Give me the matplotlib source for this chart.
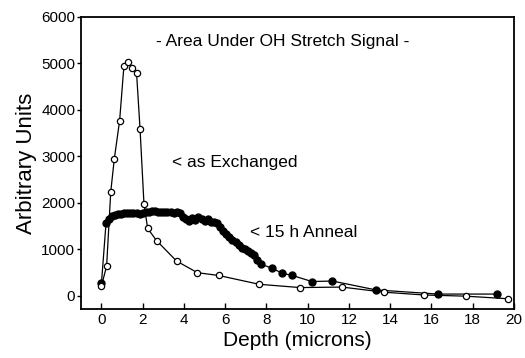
import matplotlib
matplotlib.use('Agg')
import matplotlib.pyplot as plt

plt.rcParams['font.family'] = ['Liberation Sans', 'DejaVu Sans']

# as exchanged (open circles)
exch_depth = [0.0, 0.25, 0.45, 0.62, 0.88, 1.09, 1.28, 1.49, 1.70, 1.87,
              2.06, 2.24, 2.67, 3.64, 4.65, 5.68, 7.65, 9.62, 11.67, 13.71,
              15.65, 17.65, 19.69]
exch_area = [215, 645, 2240, 2940, 3770, 4950, 5030, 4900, 4800, 3590,
             1980, 1450, 1190, 750, 500, 440, 250, 180, 190, 80,
             20, -5, -60]

# 15 h anneal (filled circles)
anneal_depth = [0.0, 0.22, 0.35, 0.5, 0.65, 0.8, 0.95, 1.1, 1.25, 1.4,
                1.55, 1.7, 1.85, 2.0, 2.15, 2.3, 2.45, 2.6, 2.75, 2.9,
                3.05, 3.2, 3.35, 3.5, 3.65, 3.8, 3.95, 4.1, 4.25, 4.4,
                4.55, 4.7, 4.85, 5.0, 5.15, 5.3, 5.45, 5.6, 5.75, 5.9,
                6.05, 6.2, 6.35, 6.5, 6.65, 6.8, 6.95, 7.1, 7.25, 7.4,
                7.55, 7.75, 8.25, 8.75, 9.25, 10.2, 11.2, 13.3, 16.3, 19.2]
anneal_area = [280, 1560, 1660, 1710, 1740, 1760, 1770, 1780, 1790, 1780,
               1790, 1775, 1770, 1790, 1800, 1810, 1820, 1830, 1810, 1800,
               1815, 1810, 1800, 1790, 1810, 1780, 1700, 1650, 1620, 1680,
               1640, 1700, 1660, 1620, 1660, 1600, 1580, 1560, 1480, 1400,
               1330, 1260, 1200, 1150, 1100, 1040, 1000, 960, 920, 880,
               780, 680, 600, 490, 440, 310, 320, 130, 40, 40]

fig = plt.figure(figsize=(5.25, 3.58), dpi=100)
ax = fig.add_axes([0.154, 0.137, 0.825, 0.816])

ax.plot(anneal_depth, anneal_area, '-o', color='black', lw=0.9,
        ms=5, mfc='black', mec='black')
ax.plot(exch_depth, exch_area, '-o', color='black', lw=0.9,
        ms=4.5, mfc='white', mec='black', mew=0.9)

ax.set_xlim(-1, 20)
ax.set_ylim(-280, 6000)
ax.set_xticks(range(0, 21, 2))
ax.set_yticks(range(0, 6001, 1000))
ax.tick_params(axis='x', direction='in', length=4, width=1, labelsize=11, pad=3)
ax.tick_params(axis='y', direction='out', length=3, width=1, labelsize=11, pad=1)
for s in ax.spines.values():
    s.set_linewidth(1.3)

ax.text(8.8, 5460, '- Area Under OH Stretch Signal -', ha='center', va='center', fontsize=12.5)
ax.text(3.4, 2870, '< as Exchanged', ha='left', va='center', fontsize=12.5)
ax.text(7.2, 1360, '< 15 h Anneal', ha='left', va='center', fontsize=12.5)

ax.set_xlabel('Depth (microns)', fontsize=15, labelpad=3)
ax.set_ylabel('Arbitrary Units', fontsize=16, labelpad=3)

fig.savefig('out.png', dpi=100)
